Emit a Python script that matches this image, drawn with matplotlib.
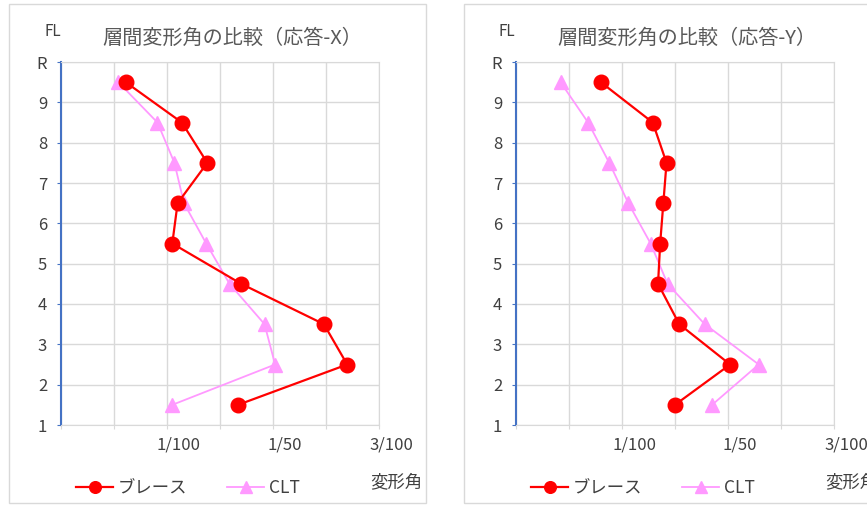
import matplotlib.pyplot as plt
import matplotlib.transforms as mtransforms
from matplotlib.patches import Rectangle

plt.rcParams['font.family'] = ['Noto Sans CJK JP', 'DejaVu Sans']

# 層の位置（各層の中間高さ）
floors = [1.5, 2.5, 3.5, 4.5, 5.5, 6.5, 7.5, 8.5, 9.5]

# 応答-X 層間変形角
brace_x = [0.0167, 0.0270, 0.0248, 0.0170, 0.0105, 0.0110, 0.0138, 0.0114, 0.0061]
clt_x = [0.0105, 0.0202, 0.0192, 0.0159, 0.0137, 0.0116, 0.0107, 0.0091, 0.0054]

# 応答-Y 層間変形角
brace_y = [0.0150, 0.0202, 0.0154, 0.0134, 0.0136, 0.0139, 0.0142, 0.0129, 0.0080]
clt_y = [0.0185, 0.0229, 0.0178, 0.0143, 0.0127, 0.0106, 0.0088, 0.0068, 0.0042]

y_ticks = [1, 2, 3, 4, 5, 6, 7, 8, 9, 10]
y_labels = ['1', '2', '3', '4', '5', '6', '7', '8', '9', 'R']
x_ticks = [0, 0.005, 0.01, 0.015, 0.02, 0.025, 0.03]
x_labels = ['', '', '1/100', '', '1/50', '', '3/100']

W, H = 867, 505
fig = plt.figure(figsize=(W / 100, H / 100), dpi=100)
fig.patch.set_facecolor('white')

text_col = '#404040'
grid_col = '#d9d9d9'


def px_rect(x0, y0, x1, y1):
    # ピクセル座標（上原点）から図座標へ
    return [x0 / W, 1 - y1 / H, (x1 - x0) / W, (y1 - y0) / H]


def draw_panel(px0, panel, brace, clt, title):
    bx0, bx1 = panel
    fig.patches.append(Rectangle((bx0 / W, 1 - 503 / H), (bx1 - bx0) / W, 499 / H,
                                 transform=fig.transFigure, fill=False,
                                 edgecolor='#d9d9d9', linewidth=1.0))
    ax = fig.add_axes(px_rect(px0, 62, px0 + 318, 425))
    ax.plot(brace, floors, color='#ff0000', linewidth=1.6, marker='o',
            markersize=10.5, label='ブレース', zorder=3)
    ax.plot(clt, floors, color='#ff99ff', linewidth=1.3, marker='^',
            markersize=10.5, label='CLT', zorder=2)

    ax.set_xlim(0, 0.03)
    ax.set_ylim(1, 10)
    ax.set_xticks(x_ticks)
    ax.set_xticklabels(x_labels)
    ax.set_yticks(y_ticks)
    ax.set_yticklabels(y_labels)
    ax.grid(True, color=grid_col, linewidth=1.0)
    ax.set_axisbelow(True)

    for s in ['top', 'right']:
        ax.spines[s].set_color(grid_col)
    ax.spines['bottom'].set_color(grid_col)
    ax.spines['left'].set_color('#4472c4')
    ax.spines['left'].set_linewidth(1.5)

    ax.tick_params(axis='y', length=3, color='#4472c4', labelsize=12,
                   labelcolor=text_col, pad=7)
    ax.tick_params(axis='x', length=3, color=grid_col, labelsize=12,
                   labelcolor=text_col, pad=5)
    offset = mtransforms.ScaledTranslation(0.12, 0, fig.dpi_scale_trans)
    for lab in ax.get_xticklabels():
        lab.set_transform(lab.get_transform() + offset)

    ax.legend(loc='center', bbox_to_anchor=(0.40, -0.174), ncol=2,
              frameon=False, fontsize=12.5, handlelength=2.1, markerscale=0.8,
              columnspacing=2.3, handletextpad=0.3, labelcolor=text_col)

    fig.text((px0 - 17) / W, 1 - 32 / H, 'FL', fontsize=11, color=text_col,
             ha='left', va='center')
    fig.text((px0 + 171) / W, 1 - 38 / H, title, fontsize=14.5,
             color='#595959', ha='center', va='center')
    fig.text((px0 + 309) / W, 1 - 482 / H, '変形角', fontsize=12.5,
             color=text_col, ha='left', va='center')
    return ax


draw_panel(61, (9, 426), brace_x, clt_x, '層間変形角の比較（応答-X）')
draw_panel(516, (464, 880), brace_y, clt_y, '層間変形角の比較（応答-Y）')

fig.savefig('out.png', dpi=100)
